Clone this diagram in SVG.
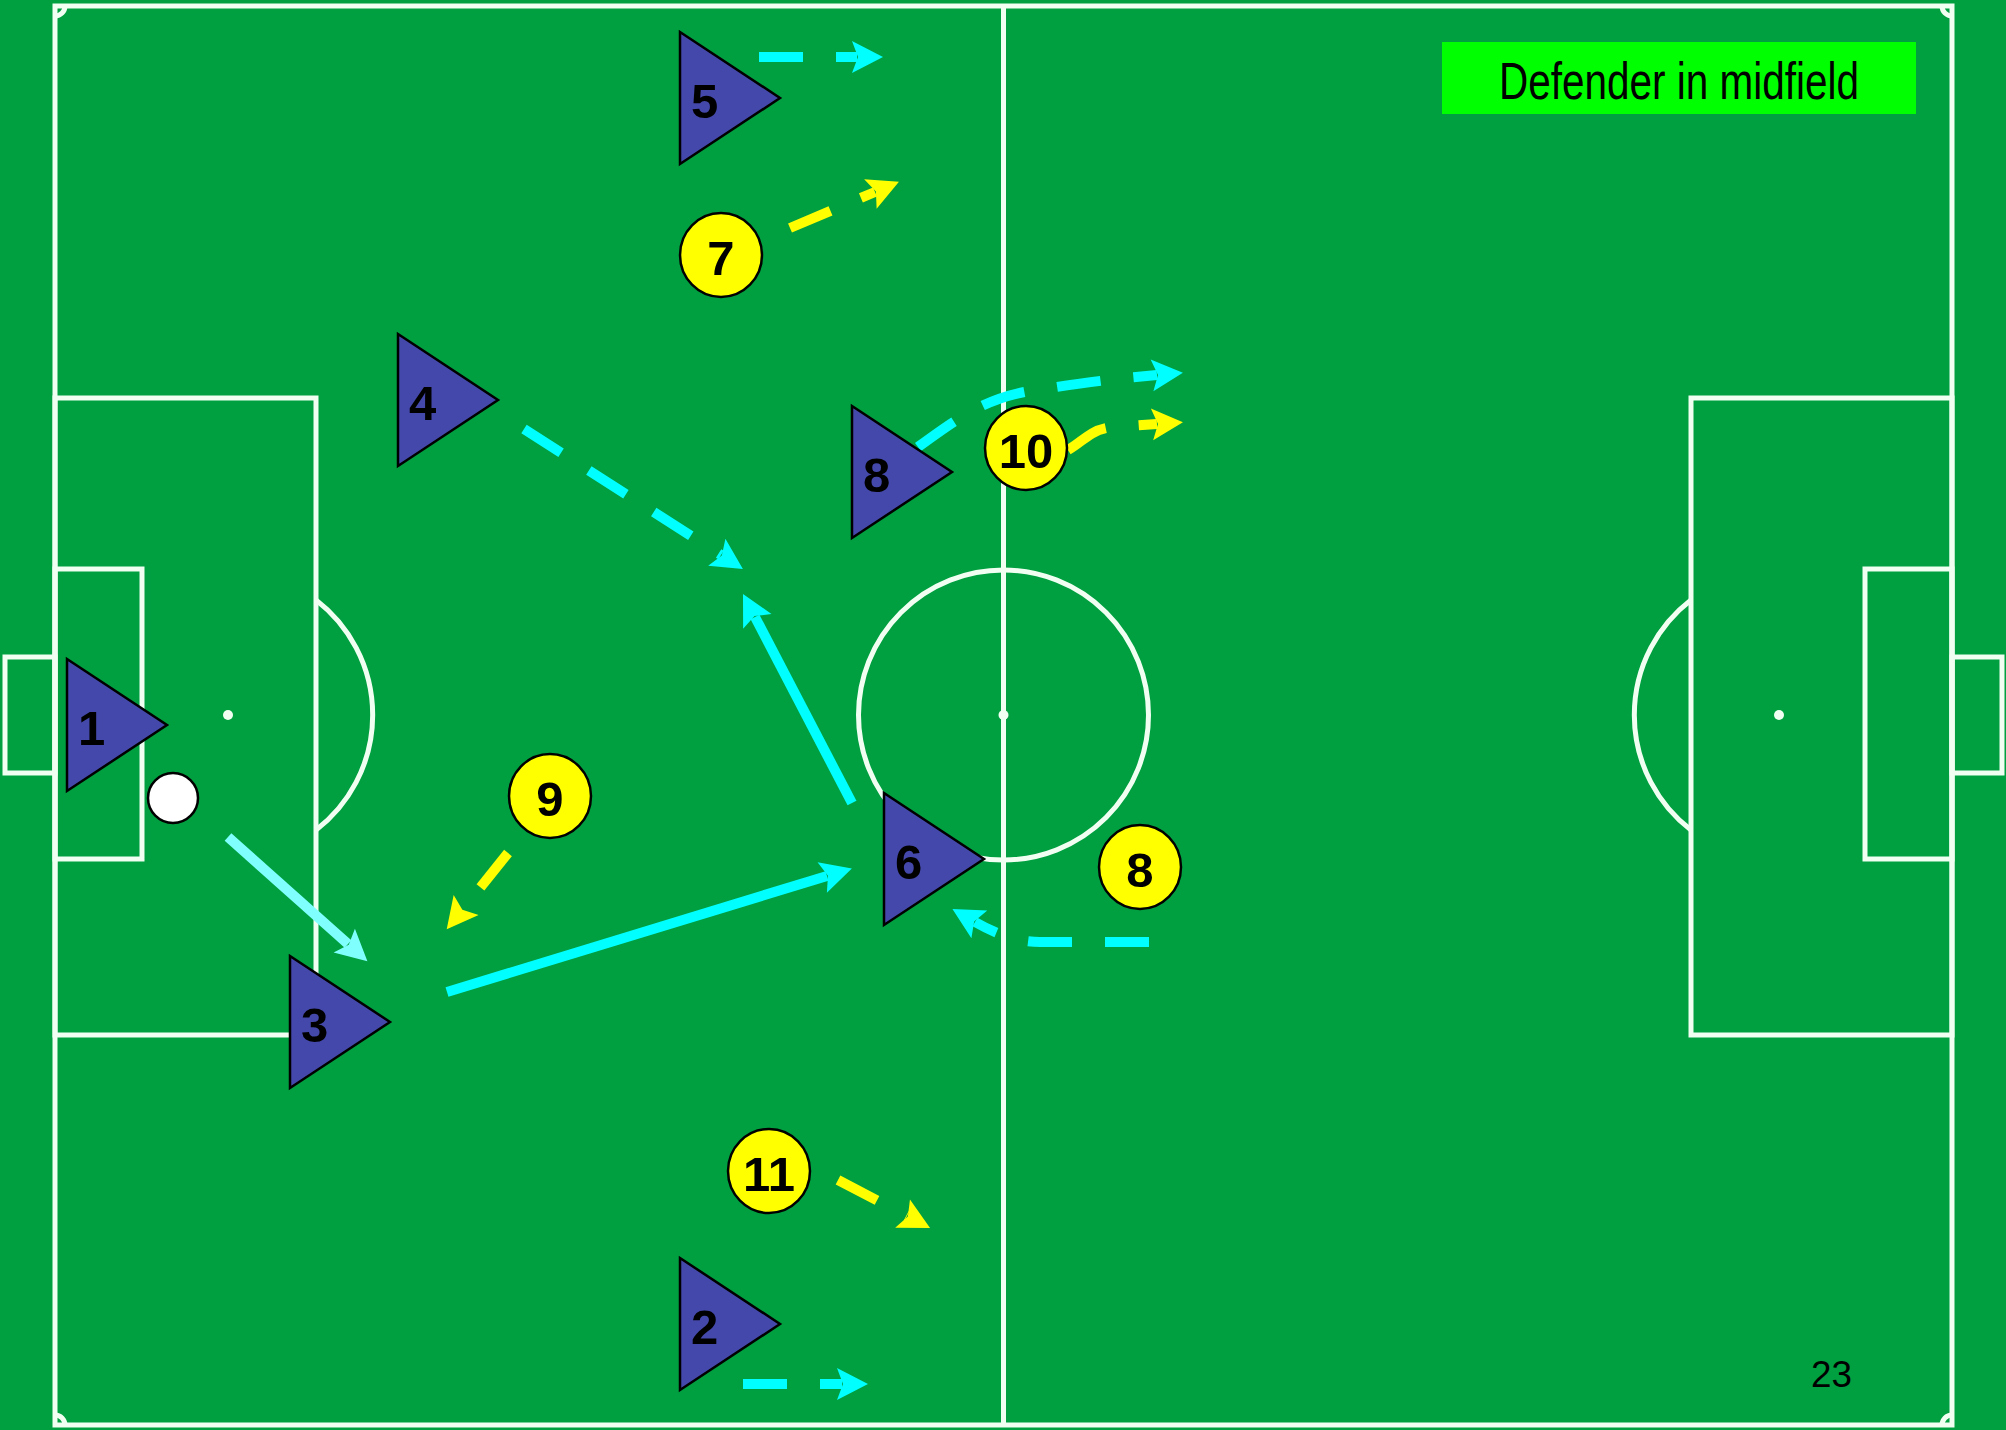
<svg xmlns="http://www.w3.org/2000/svg" width="2006" height="1430" viewBox="0 0 2006 1430">
<defs>
<style>
.ln{fill:none;stroke:#F0FFF2;stroke-width:5}
.cc{fill:none;stroke:#F0FFF2;stroke-width:5}
.tri{fill:#4448AA;stroke:#000;stroke-width:2.5;stroke-linejoin:miter}
.yc{fill:#FFFF00;stroke:#000;stroke-width:2.5}
.lbl{font-family:"Liberation Sans",Arial,sans-serif;font-weight:bold;font-size:49px;fill:#000}
.cyan{fill:none;stroke:#00FFFF;stroke-width:10}
.ltc{fill:none;stroke:#80FFFF;stroke-width:10}
.yel{fill:none;stroke:#FFFF00;stroke-width:10}
.dash{stroke-dasharray:44 33}
</style>
<marker id="hc" markerUnits="userSpaceOnUse" viewBox="-6 -17 34 34" markerWidth="34" markerHeight="34" refX="0" refY="0" orient="auto"><path d="M-5,-16 L26,0 L-5,16 L1,0 Z" fill="#00FFFF"/></marker>
<marker id="hl" markerUnits="userSpaceOnUse" viewBox="-6 -17 34 34" markerWidth="34" markerHeight="34" refX="0" refY="0" orient="auto"><path d="M-5,-16 L26,0 L-5,16 L1,0 Z" fill="#80FFFF"/></marker>
<marker id="hy" markerUnits="userSpaceOnUse" viewBox="-6 -17 34 34" markerWidth="34" markerHeight="34" refX="0" refY="0" orient="auto"><path d="M-5,-16 L26,0 L-5,16 L1,0 Z" fill="#FFFF00"/></marker>
<polygon id="triShape" class="tri" points="0,0 100,66 0,132"/>
</defs>
<rect x="0" y="0" width="2006" height="1430" fill="#00A040"/>
<g id="pitch">
<rect class="ln" x="55" y="6" width="1897" height="1419"/>
<line class="ln" x1="1003.5" y1="6" x2="1003.5" y2="1425"/>
<circle class="cc" cx="1003.5" cy="715" r="145"/>
<circle cx="1003.5" cy="715" r="5" fill="#F0FFF2"/>
<rect class="ln" x="55" y="398" width="261" height="637"/>
<rect class="ln" x="55" y="569" width="87" height="290"/>
<rect class="ln" x="5" y="657" width="50" height="116"/>
<circle cx="228" cy="715" r="5" fill="#F0FFF2"/>
<path class="cc" d="M316,600 A145,145 0 0 1 316,830"/>
<rect class="ln" x="1691" y="398" width="261" height="637"/>
<rect class="ln" x="1865" y="569" width="87" height="290"/>
<rect class="ln" x="1952" y="657" width="50" height="116"/>
<circle cx="1779" cy="715" r="5" fill="#F0FFF2"/>
<path class="cc" d="M1691,600 A145,145 0 0 0 1691,830"/>
<path class="cc" d="M55,16 A10,10 0 0 0 65,6"/>
<path class="cc" d="M1942,6 A10,10 0 0 0 1952,16"/>
<path class="cc" d="M65,1425 A10,10 0 0 0 55,1415"/>
<path class="cc" d="M1952,1415 A10,10 0 0 0 1942,1425"/>
</g>
<g id="title">
<rect x="1442" y="42" width="474" height="72" fill="#00FF00"/>
<text x="1679" y="99" text-anchor="middle" font-family="'Liberation Sans',Arial,sans-serif" font-size="52" textLength="360" lengthAdjust="spacingAndGlyphs" fill="#000">Defender in midfield</text>
</g>
<g id="connectors">
<path class="cyan dash" d="M759,57 L857,57" marker-end="url(#hc)"/>
<path class="yel dash" d="M790,228 L875,192" marker-end="url(#hy)"/>
<path class="cyan dash" d="M524,429 L721,555" marker-end="url(#hc)"/>
<path class="cyan dash" d="M918,447 C955,420 985,398 1030,391 S1110,379 1157,375" marker-end="url(#hc)"/>
<path class="yel dash" d="M1068,450 C1085,440 1092,428 1115,427 L1157,424" marker-end="url(#hy)"/>
<path class="cyan" d="M852,803 L755,617" marker-end="url(#hc)"/>
<path class="ltc" d="M228,837 L348,944" marker-end="url(#hl)"/>
<path class="yel dash" d="M508,853 L463,909" marker-end="url(#hy)"/>
<path class="cyan" d="M447,992 L827,876" marker-end="url(#hc)"/>
<path class="cyan dash" d="M1149,942 L1040,942 Q1010,942 975,922" marker-end="url(#hc)"/>
<path class="yel dash" d="M838,1180 L907,1216" marker-end="url(#hy)"/>
<path class="cyan dash" d="M743,1384 L842,1384" marker-end="url(#hc)"/>
</g>
<g id="ball"><circle cx="173" cy="798" r="25" fill="#FFFFFF" stroke="#000" stroke-width="2.5"/></g>
<g id="p5" transform="translate(680,32)"><use href="#triShape"/><text class="lbl" x="11" y="86">5</text></g>
<g id="p4" transform="translate(398,334)"><use href="#triShape"/><text class="lbl" x="11" y="86">4</text></g>
<g id="p8" transform="translate(852,406)"><use href="#triShape"/><text class="lbl" x="11" y="86">8</text></g>
<g id="p1" transform="translate(67,659)"><use href="#triShape"/><text class="lbl" x="11" y="86">1</text></g>
<g id="p6" transform="translate(884,793)"><use href="#triShape"/><text class="lbl" x="11" y="86">6</text></g>
<g id="p3" transform="translate(290,956)"><use href="#triShape"/><text class="lbl" x="11" y="86">3</text></g>
<g id="p2" transform="translate(680,1258)"><use href="#triShape"/><text class="lbl" x="11" y="86">2</text></g>
<g id="o7"><ellipse class="yc" cx="721" cy="255" rx="41" ry="42"/><text class="lbl" x="721" y="275" text-anchor="middle">7</text></g>
<g id="o10"><ellipse class="yc" cx="1026" cy="448" rx="41" ry="42"/><text class="lbl" x="1026" y="468" text-anchor="middle">10</text></g>
<g id="o9"><ellipse class="yc" cx="550" cy="796" rx="41" ry="42"/><text class="lbl" x="550" y="816" text-anchor="middle">9</text></g>
<g id="o8"><ellipse class="yc" cx="1140" cy="867" rx="41" ry="42"/><text class="lbl" x="1140" y="887" text-anchor="middle">8</text></g>
<g id="o11"><ellipse class="yc" cx="769" cy="1171" rx="41" ry="42"/><text class="lbl" x="769" y="1191" text-anchor="middle">11</text></g>
<g id="pagenum"><text x="1811" y="1387" font-family="'Liberation Sans',Arial,sans-serif" font-size="37" textLength="41" lengthAdjust="spacingAndGlyphs" fill="#000">23</text></g>
</svg>
